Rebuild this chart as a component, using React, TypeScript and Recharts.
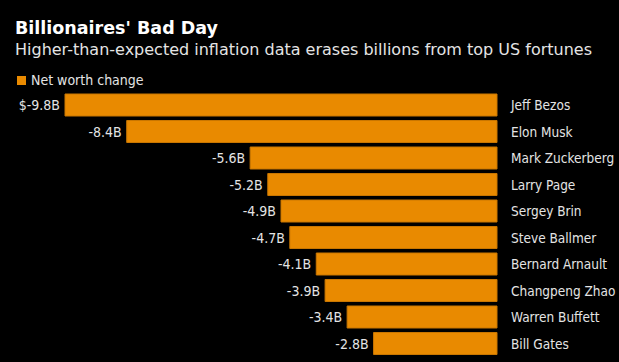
import { BarChart, Bar, XAxis, YAxis, LabelList } from "recharts";

const names = [
  "Jeff Bezos",
  "Elon Musk",
  "Mark Zuckerberg",
  "Larry Page",
  "Sergey Brin",
  "Steve Ballmer",
  "Bernard Arnault",
  "Changpeng Zhao",
  "Warren Buffett",
  "Bill Gates",
];
const netWorthChange = [-9.8, -8.4, -5.6, -5.2, -4.9, -4.7, -4.1, -3.9, -3.4, -2.8];

const rows = names.map((name, i) => ({ name, change: netWorthChange[i] }));

const FONT = "'DejaVu Sans Condensed', 'Liberation Sans Narrow', 'Liberation Sans', sans-serif";
const TEXT = "#e4e4e4";
const ORANGE = "#e98a00";

function NameTick({ x, y, payload }: any) {
  return (
    <text x={x} y={y} dy={5} textAnchor="start" fill={TEXT} fontSize={13.5} fontFamily={FONT}>
      {payload.value}
    </text>
  );
}

// value label sits just left of the bar's far (negative) end
function ValueLabel({ x, y, width, height, value, index }: any) {
  const left = Math.min(x, x + width);
  const txt = index === 0 ? `$${value}B` : `${value}B`;
  return (
    <text x={left - 5} y={y + height / 2} dy={5} textAnchor="end" fill={TEXT} fontSize={14} fontFamily={FONT}>
      {txt}
    </text>
  );
}

export default function App() {
  return (
    <div style={{ position: "relative", width: 619, height: 362, background: "#000", fontFamily: FONT }}>
      <style>{"body{margin:0}"}</style>

      {/* title block */}
      <div style={{ position: "absolute", left: 15, top: 17, color: "#fff", fontFamily: "'DejaVu Sans', sans-serif", fontWeight: "bold", fontSize: 17.5, lineHeight: "22px" }}>
        Billionaires' Bad Day
      </div>
      <div style={{ position: "absolute", left: 15, top: 40, color: TEXT, fontFamily: "'DejaVu Sans', sans-serif", fontSize: 16, lineHeight: "20px" }}>
        Higher-than-expected inflation data erases billions from top US fortunes
      </div>

      {/* legend */}
      <div style={{ position: "absolute", left: 17, top: 72, display: "flex", alignItems: "center", color: TEXT, fontSize: 14 }}>
        <span style={{ display: "inline-block", width: 9, height: 9, background: ORANGE, marginRight: 5 }} />
        Net worth change
      </div>

      <div style={{ position: "absolute", left: 0, top: 0 }}>
        <BarChart
          width={619}
          height={362}
          data={rows}
          layout="vertical"
          margin={{ top: 92, right: 0, bottom: 5, left: 65 }}
        >
          <XAxis type="number" domain={["dataMin", 0]} hide />
          <YAxis
            type="category"
            dataKey="name"
            orientation="right"
            width={122}
            axisLine={false}
            tickLine={false}
            tickSize={0}
            tickMargin={14}
            tick={<NameTick />}
          />
          <Bar dataKey="change" fill={ORANGE} stroke="#c97600" strokeWidth={1} barSize={22} isAnimationActive={false}>
            <LabelList dataKey="change" content={<ValueLabel />} />
          </Bar>
        </BarChart>
      </div>
    </div>
  );
}
